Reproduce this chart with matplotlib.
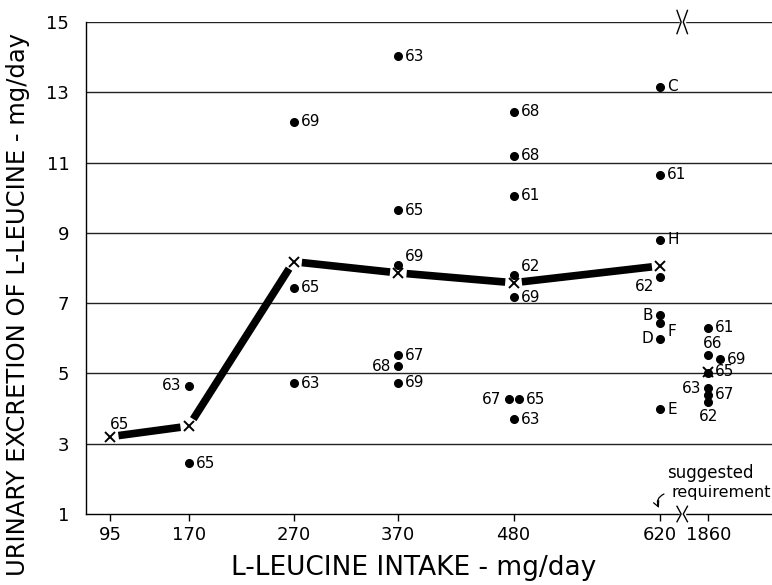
"""
Urinary excretion of L-leucine versus L-leucine intake, individual subjects and group means
"""
import numpy as np
import matplotlib
matplotlib.use("Agg")
import matplotlib.pyplot as plt
from matplotlib.transforms import offset_copy

# intake levels (mg/day) and mean excretion at each level (the X marks)
intake = [95, 170, 270, 370, 480, 620, 1860]
mean_excretion = [3.20, 3.50, 8.18, 7.86, 7.58, 8.06, 5.05]

# individual subjects
pt_intake = [170, 170,
             270, 270, 270,
             370, 370, 370, 370, 370, 370,
             480, 480, 480, 480, 480, 480, 480, 480,
             620, 620, 620, 620, 620, 620, 620, 620,
             1860, 1860, 1860, 1860, 1860, 1860, 1860]
pt_value = [2.45, 4.65,
            12.16, 7.44, 4.72,
            14.03, 9.65, 8.09, 5.52, 5.21, 4.74,
            12.45, 11.19, 10.05, 7.80, 7.17, 4.26, 4.26, 3.69,
            13.16, 10.65, 8.80, 7.75, 6.66, 6.43, 5.98, 3.98,
            6.30, 5.52, 5.41, 5.00, 4.58, 4.39, 4.20]
pt_label = ["65", "63",
            "69", "65", "63",
            "63", "65", "69", "67", "68", "69",
            "68", "68", "61", "62", "69", "67", "65", "63",
            "C", "61", "H", "62", "B", "F", "D", "E",
            "61", "66", "69", "65", "63", "67", "62"]

# where the label sits relative to its dot, and small horizontal nudges (px) of crowded dots
label_pos = ["r", "l",
             "r", "r", "r",
             "r", "r", "ru", "r", "l", "r",
             "r", "r", "r", "ru", "r", "l", "r", "r",
             "r", "r", "r", "ld", "l", "rd", "l", "r",
             "r", "u", "r", "", "l", "r", "d"]
dot_nudge = [0, 0,
             0, 0, 0,
             0, 0, 0, 0, 0, 0,
             0, 0, 0, 0, 0, -5, 5, 0,
             0, 0, 0, 0, 0, 0, 0, 0,
             0, 0, 12, 0, 0, 0, 0]

xtick_labels = ["95", "170", "270", "370", "480", "620", "1860"]
yticks = [1, 3, 5, 7, 9, 11, 13, 15]

BREAK_AT = 620
BREAK_SHIFT = 46   # axis units between 620 and the 1860 column after the break


def to_axis(v):
    v = np.asarray(v, dtype=float)
    return np.where(v > BREAK_AT, BREAK_AT + BREAK_SHIFT, v)


fig = plt.figure(figsize=(7.72, 5.85), dpi=100)
ax = fig.add_axes([86 / 772, 71 / 585, 686 / 772, 492 / 585])
ax.set_xlim(71.9, 726.7)
ax.set_ylim(1, 15)

for s in ["top", "right"]:
    ax.spines[s].set_visible(False)
ax.spines["left"].set_linewidth(1.0)
ax.spines["bottom"].set_linewidth(1.0)

for yv in yticks[1:]:
    ax.axhline(yv, color="#222222", lw=1.0, zorder=1)

ax.set_yticks(yticks)
ax.set_yticklabels([str(v) for v in yticks], fontsize=13)
ax.tick_params(axis="y", length=0, pad=12)
ax.set_xticks(to_axis(intake))
ax.set_xticklabels(xtick_labels, fontsize=13)
ax.tick_params(axis="x", direction="out", length=5, width=1.0, pad=4)

# thick mean line, broken at each X
mx = to_axis(intake)
for i in range(len(intake) - 2):
    ax.annotate("", xy=(mx[i + 1], mean_excretion[i + 1]), xytext=(mx[i], mean_excretion[i]),
                arrowprops=dict(arrowstyle="-", lw=5.5, color="black", shrinkA=6, shrinkB=6,
                                capstyle="butt"), zorder=3)

# individual dots and labels
px = to_axis(pt_intake)
for x, y, lab, pos, dx in zip(px, pt_value, pt_label, label_pos, dot_nudge):
    tr = offset_copy(ax.transData, fig=fig, x=dx, y=0, units="dots")
    ax.plot(x, y, "o", ms=5.5, color="black", transform=tr, zorder=4)
    if pos == "":
        continue
    offs = {"r": (5, 0, "left", "center"), "l": (-5, 0, "right", "center"),
            "ru": (5, 6, "left", "center"), "ld": (-4, -7, "right", "center"),
            "rd": (5, -6, "left", "center"), "u": (3, 8.5, "center", "center"),
            "d": (0, -11, "center", "center")}[pos]
    ttr = offset_copy(ax.transData, fig=fig, x=dx + offs[0] * 1.39, y=offs[1] * 1.39, units="dots")
    ax.text(x, y, lab, fontsize=11, ha=offs[2], va=offs[3], transform=ttr, zorder=5)

# X marks of the means
ax.plot(mx, mean_excretion, "x", ms=7, mew=1.4, color="black", zorder=6)
ax.annotate("65", (mx[0], mean_excretion[0]), xytext=(0, 9), textcoords="offset points",
            fontsize=11, ha="left", va="center")
ax.annotate("65", (mx[-1], mean_excretion[-1]), xytext=(5, 0), textcoords="offset points",
            fontsize=11, ha="left", va="center")

# axis break marks
brk_x = BREAK_AT + 21
for yb, h in [(15, 0.33), (1, 0.22)]:
    for sgn, x0 in [(1, brk_x - 3), (-1, brk_x + 3)]:
        ax.plot([x0 - sgn * 2, x0 + sgn * 2, x0 - sgn * 2],
                [yb + h, yb, yb - h], color="black", lw=1.0, clip_on=False, zorder=7)
    ax.plot([brk_x - 1.5, brk_x + 1.5], [yb, yb], color="white", lw=2.5, clip_on=False, zorder=6)

# suggested requirement
ax.text(BREAK_AT + 48, 2.17, "suggested", fontsize=12, ha="center", va="center")
ax.text(726, 1.6, "requirement", fontsize=11.5, ha="right", va="center")
ax.annotate("", xy=(BREAK_AT, 1.1), xytext=(BREAK_AT + 6, 1.6),
            arrowprops=dict(arrowstyle="->", lw=0.9, connectionstyle="arc3,rad=0.6"))

fig.text(18 / 772, 1 - 304 / 585, "URINARY EXCRETION OF L-LEUCINE - mg/day",
         rotation=90, ha="center", va="center", fontsize=17.5)
fig.text(414 / 772, 1 - 568 / 585, "L-LEUCINE INTAKE - mg/day",
         ha="center", va="center", fontsize=19)

fig.savefig("out.png", dpi=100)
